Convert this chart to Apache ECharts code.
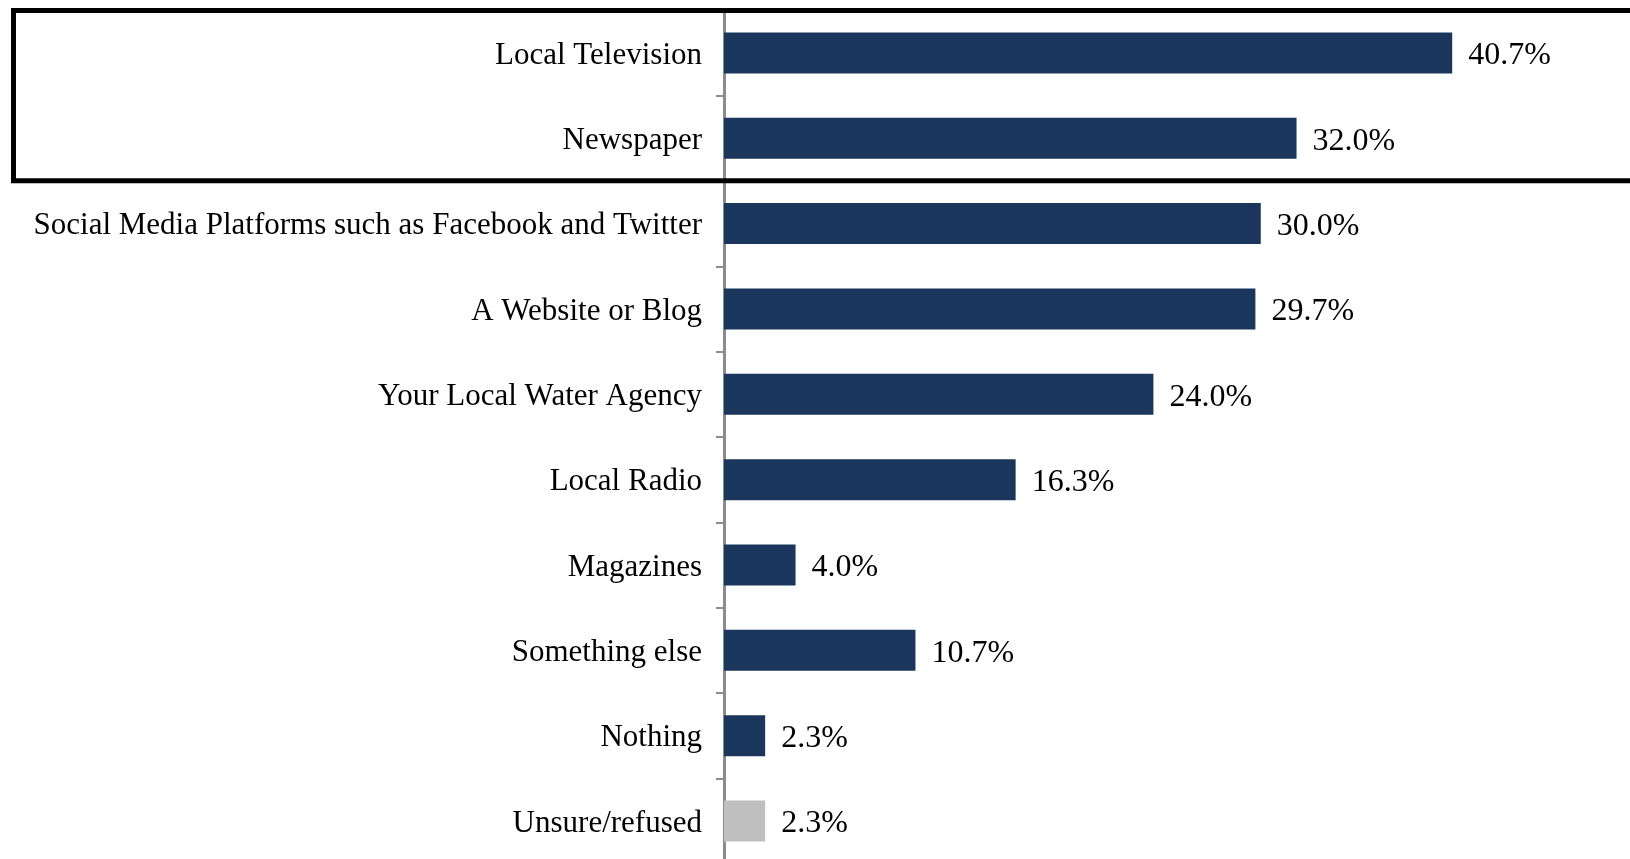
<!DOCTYPE html>
<html>
<head>
<meta charset="utf-8">
<script src="https://cdn.jsdelivr.net/npm/echarts@6/dist/echarts.min.js"></script>
<style>
html,body{margin:0;padding:0;background:#fff;}
#chart{width:1630px;height:859px;}
</style>
</head>
<body>
<div id="chart"></div>
<script>
var categories = [
  "Local Television",
  "Newspaper",
  "Social Media Platforms such as Facebook and Twitter",
  "A Website or Blog",
  "Your Local Water Agency",
  "Local Radio",
  "Magazines",
  "Something else",
  "Nothing",
  "Unsure/refused"
];
var values = [40.7, 32.0, 30.0, 29.7, 24.0, 16.3, 4.0, 10.7, 2.3, 2.3];
var barColors = ["#1b365d","#1b365d","#1b365d","#1b365d","#1b365d","#1b365d","#1b365d","#1b365d","#1b365d","#bfbfbf"];

var FONT = "'Liberation Serif', 'DejaVu Serif', serif";
var chart = echarts.init(document.getElementById('chart'), null, {renderer: 'canvas'});
chart.setOption({
  animation: false,
  backgroundColor: '#ffffff',
  grid: {left: 724, top: 10.2, height: 853.5, width: 894.6, containLabel: false, outerBoundsMode: 'none'},
  xAxis: {
    type: 'value', min: 0, max: 50, show: false
  },
  yAxis: {
    type: 'category',
    data: categories,
    inverse: true,
    axisLine: {show: true, lineStyle: {color: '#8c8c8c', width: 3}},
    axisTick: {show: true, length: 8, lineStyle: {color: '#8c8c8c', width: 2}},
    axisLabel: {
      margin: 22, color: '#000', fontFamily: FONT, fontSize: 31,
      formatter: function (v) { return '{a|' + v + '}'; },
      rich: {a: {fontFamily: FONT, fontSize: 31, color: '#000', padding: [5, 0, 0, 0]}}
    },
    splitLine: {show: false}
  },
  series: [{
    type: 'bar',
    barWidth: 41,
    data: values.map(function (v, i) {
      return {value: v, itemStyle: {color: barColors[i]}};
    }),
    label: {
      show: true, position: 'right', distance: 16, offset: [0, 3],
      color: '#000', fontFamily: FONT, fontSize: 32,
      formatter: function (p) { return p.value.toFixed(1) + '%'; }
    }
  }],
  graphic: [{
    type: 'rect',
    z: 100,
    shape: {x: 13.5, y: 10.5, width: 1700, height: 170.3},
    style: {fill: 'none', stroke: '#000', lineWidth: 5}
  }]
});
</script>
</body>
</html>
